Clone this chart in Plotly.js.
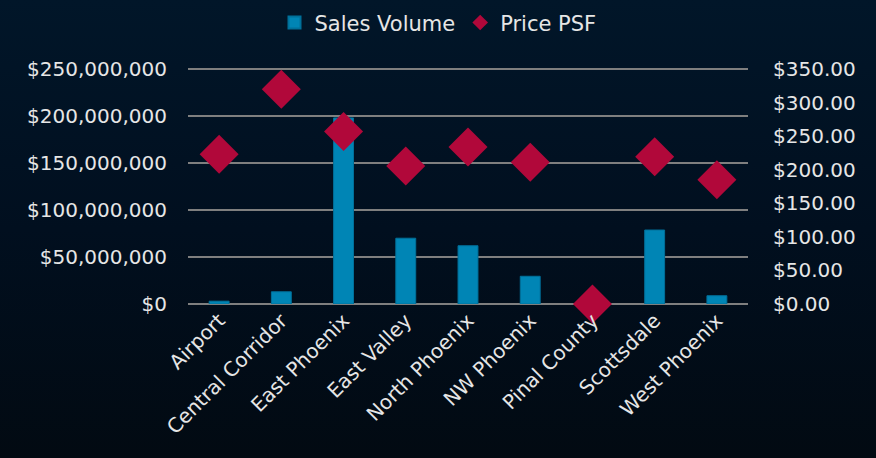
<!DOCTYPE html>
<html>
<head>
<meta charset="utf-8">
<script src="https://cdn.plot.ly/plotly-3.0.1.min.js"></script>
<style>
html, body { margin:0; padding:0; width:876px; height:458px; overflow:hidden;
  background: linear-gradient(180deg, #011629 0%, #010f1f 50%, #020a12 100%); }
#chart { width:876px; height:458px; }
</style>
</head>
<body>
<div id="chart"></div>
<script>
const categories = ["Airport", "Central Corridor", "East Phoenix", "East Valley", "North Phoenix", "NW Phoenix", "Pinal County", "Scottsdale", "West Phoenix"];
const salesVolume = [3000000, 13000000, 198000000, 70000000, 62000000, 29500000, 0, 78700000, 8800000];
const pricePSF = [223, 320, 257, 205.5, 234, 211, 0, 219.5, 185];

const txt = "#e6e6e6";
const fontFam = "DejaVu Sans, Lato, sans-serif";
const fs = 20;

const traces = [
  {
    type: "bar", name: "Sales Volume", x: categories, y: salesVolume,
    marker: { color: "#0085B5", line: { color: "#00709a", width: 1 } },
    yaxis: "y", hoverinfo: "skip"
  },
  {
    type: "scatter", mode: "markers", name: "Price PSF", x: categories, y: pricePSF,
    marker: { symbol: "diamond", size: 30, color: "#B1083A", line: { width: 0 } },
    yaxis: "y2", cliponaxis: false, hoverinfo: "skip"
  }
];

// tiny headroom so the top gridline at $250M is not culled at the plot edge
const k = 1.0044;

const layout = {
  width: 876, height: 458,
  paper_bgcolor: "rgba(0,0,0,0)", plot_bgcolor: "rgba(0,0,0,0)",
  margin: { l: 188, r: 128, t: 68, b: 154 },
  font: { family: fontFam, color: txt, size: fs },
  showlegend: true,
  legend: { orientation: "h", x: 0.5, xanchor: "center", xref: "container",
    y: 0.995, yanchor: "top", yref: "container", itemsizing: "constant",
    font: { family: fontFam, size: 21, color: txt }, itemwidth: 30, tracegroupgap: 0 },
  bargap: 0.68,
  xaxis: {
    type: "category", range: [-0.5, categories.length - 0.5], tickangle: -45,
    showgrid: false, zeroline: false,
    showline: false, ticks: "", tickfont: { family: fontFam, size: fs, color: txt }
  },
  yaxis: {
    range: [0, 250000000 * k], tickvals: [0, 50000000, 100000000, 150000000, 200000000, 250000000],
    tickformat: "$,",
    showgrid: true, gridcolor: "#7f7f7f", gridwidth: 1.5,
    zeroline: true, zerolinecolor: "#7f7f7f", zerolinewidth: 1.5,
    showline: false, ticks: "", ticklabelstandoff: 20,
    tickfont: { family: fontFam, size: fs, color: txt }
  },
  yaxis2: {
    range: [0, 350 * k], tickvals: [0, 50, 100, 150, 200, 250, 300, 350],
    tickformat: "$,.2f", overlaying: "y", side: "right",
    showgrid: false, zeroline: false, showline: false, ticks: "", ticklabelstandoff: 24,
    tickfont: { family: fontFam, size: fs, color: txt }
  }
};

Plotly.newPlot("chart", traces, layout, { displayModeBar: false, staticPlot: true });
</script>
</body>
</html>
